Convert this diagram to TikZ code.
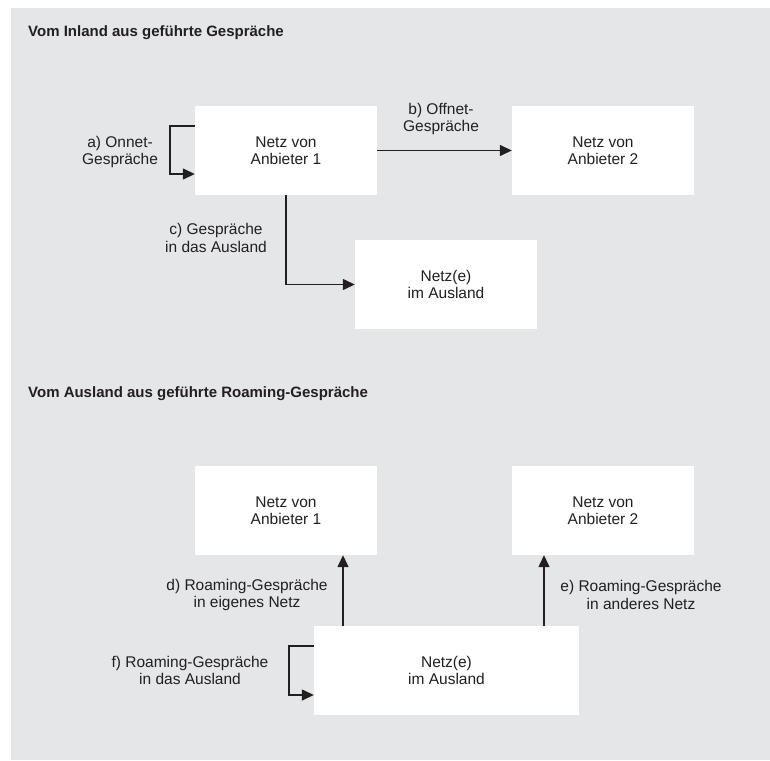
\documentclass[tikz,border=0pt]{standalone}
\usepackage{fontspec}
\setmainfont{Liberation Sans}
\usetikzlibrary{arrows.meta,calc}
\definecolor{panel}{HTML}{E5E6E8}
\definecolor{ink}{HTML}{231F20}
\tikzset{
  netbox/.style={fill=white, draw=none, minimum width=182pt, minimum height=89pt, inner sep=0pt, align=center, text=ink, font=\fontsize{15.5}{17.5}\selectfont},
  lbl/.style={align=center, inner sep=0pt, text=ink, font=\fontsize{15.5}{17.5}\selectfont},
  ttl/.style={anchor=base west, inner sep=0pt, text=ink, font=\bfseries\fontsize{15}{18}\selectfont},
  arr/.style={draw=ink, line width=1.4pt, -{Triangle[length=12pt,width=11pt]}}
}
\begin{document}
\begin{tikzpicture}[x=1pt,y=-1pt]
\useasboundingbox (0,0) rectangle (770,760);
\fill[panel] (11,8) rectangle (770,760);

\node[ttl] (t1) at (28,37) {Vom Inland aus geführte Gespräche};
\node[ttl] (t2) at (28,397) {Vom Ausland aus geführte Roaming-Gespräche};

% top section
\node[netbox] (a1) at (286,150.5) {Netz von\\Anbieter 1};
\node[netbox] (a2) at (603,150.5) {Netz von\\Anbieter 2};
\node[netbox] (au) at (446,284.5) {Netz(e)\\im Ausland};

\node[lbl] (la) at (120,152) {a) Onnet-\\Gespräche};
\node[lbl] (lb) at (441,119) {b) Offnet-\\Gespräche};
\node[lbl] (lc) at (216,238) {c) Gespräche\\in das Ausland};

\draw[arr] ([yshift=24.5pt]a1.west) -- ++(-25,0) |- ([yshift=-23.5pt]a1.west);
\draw[arr] (a1.east) -- (a2.west);
\draw[arr] (a1.south) |- (au.west);

% bottom section
\node[netbox] (b1) at (286,510.5) {Netz von\\Anbieter 1};
\node[netbox] (b2) at (603,510.5) {Netz von\\Anbieter 2};
\node[netbox, minimum width=265pt] (bu) at (446.5,670.5) {Netz(e)\\im Ausland};

\node[lbl] (ld) at (247,595) {d) Roaming-Gespräche\\in eigenes Netz};
\node[lbl] (le) at (641,595) {e) Roaming-Gespräche\\in anderes Netz};
\node[lbl] (lf) at (190,670.5) {f) Roaming-Gespräche\\in das Ausland};

\draw[arr] ([xshift=-103.5pt]bu.north) -- ([xshift=-103.5pt]bu.north |- b1.south);
\draw[arr] ([xshift=97.5pt]bu.north) -- ([xshift=97.5pt]bu.north |- b2.south);
\draw[arr] ([yshift=24.5pt]bu.west) -- ++(-25,0) |- ([yshift=-24.5pt]bu.west);
\end{tikzpicture}
\end{document}
